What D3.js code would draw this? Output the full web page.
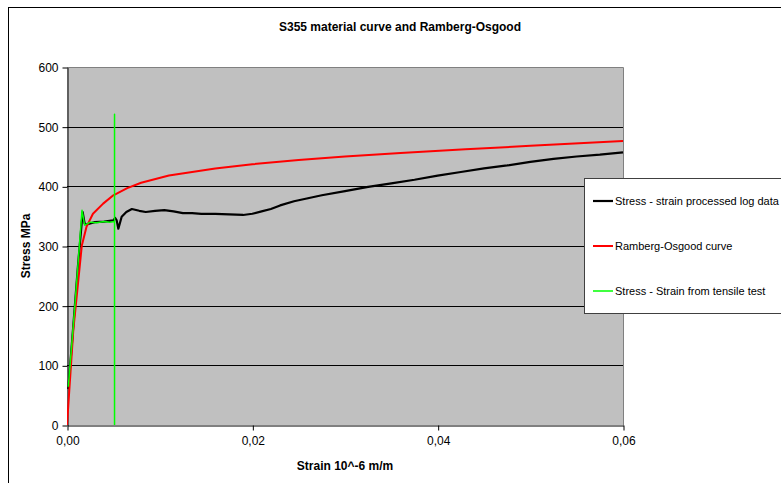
<!DOCTYPE html>
<html>
<head>
<meta charset="utf-8">
<script src="https://cdn.jsdelivr.net/npm/d3@7/dist/d3.min.js"></script>
<style>
  html, body { margin: 0; padding: 0; background: #fff; }
  svg { display: block; font-family: "Liberation Sans", Arial, sans-serif; }
</style>
</head>
<body>
<svg id="chart" width="781" height="483"></svg>
<script>
// Stress-strain curves for S355 steel: measured log data, Ramberg-Osgood fit, tensile test
const logStrain = [0.00014, 0.0007, 0.0012, 0.00169, 0.0019, 0.0021, 0.003, 0.004, 0.005, 0.0052, 0.00536, 0.00554, 0.0059, 0.0064, 0.0070, 0.0078, 0.0085, 0.0095, 0.0105, 0.0115, 0.0125, 0.0135, 0.0145, 0.016, 0.0175, 0.019, 0.020, 0.021, 0.022, 0.023, 0.0245, 0.026, 0.0275, 0.030, 0.0325, 0.035, 0.0375, 0.040, 0.0425, 0.045, 0.0475, 0.050, 0.0525, 0.055, 0.0575, 0.060];
const logStress = [60, 170, 270, 357, 338, 336, 340, 341, 343, 347, 343, 329, 349, 357, 362, 359, 357, 359, 360, 358, 355, 355, 354, 354, 353, 352, 354, 358, 362, 368, 375, 380, 385, 392, 399, 405, 411, 418, 424, 430, 435, 441, 446, 450, 453, 457];

const roStrain = [0, 0.00068, 0.0016, 0.0021, 0.0028, 0.0039, 0.0050, 0.0065, 0.0080, 0.0110, 0.0160, 0.0200, 0.0250, 0.0300, 0.0360, 0.0430, 0.0500, 0.0600];
const roStress = [0, 159, 301, 332, 354, 371, 385, 397, 406, 418, 430, 437, 444, 450, 456, 462, 468, 476];

const testStrain = [0.00014, 0.0007, 0.0012, 0.00162, 0.0019, 0.0025, 0.0032, 0.0040, 0.0046, 0.00513, 0.00513, 0.00513];
const testStress = [64, 170, 272, 360, 335, 340, 339, 341, 340, 341, 521, 0];

const seriesNames = ["Stress - strain processed log data", "Ramberg-Osgood curve", "Stress - Strain from tensile test"];
const seriesColors = ["#000000", "#ff0000", "#00ff00"];

const yTicks = [0, 100, 200, 300, 400, 500, 600];
const xTicks = [0, 0.02, 0.04, 0.06];

const chartTitle = "S355 material curve and Ramberg-Osgood";
const xTitle = "Strain 10^-6 m/m";
const yTitle = "Stress MPa";

const svg = d3.select("#chart");
const plot = { left: 67, right: 623, top: 67, bottom: 425 };

const x = d3.scaleLinear().domain([0, 0.06]).range([plot.left, plot.right]);
const y = d3.scaleLinear().domain([0, 600]).range([plot.bottom, plot.top]);

// outer chart frame
svg.append("rect")
  .attr("x", 8.5).attr("y", 7.5)
  .attr("width", 800).attr("height", 500)
  .attr("fill", "#fff").attr("stroke", "#000").attr("stroke-width", 1);

// plot area background
svg.append("rect")
  .attr("x", plot.left).attr("y", plot.top)
  .attr("width", plot.right - plot.left).attr("height", plot.bottom - plot.top)
  .attr("fill", "#c0c0c0");

// horizontal gridlines
svg.append("g")
  .selectAll("line")
  .data(yTicks.filter(d => d > 0 && d < 600))
  .join("line")
  .attr("x1", plot.left).attr("x2", plot.right)
  .attr("y1", d => Math.round(y(d)) + 0.5).attr("y2", d => Math.round(y(d)) + 0.5)
  .attr("stroke", "#000").attr("stroke-width", 1);

// plot border (top / right)
svg.append("path")
  .attr("d", `M${plot.left},${plot.top + 0.5}H${plot.right + 0.5}V${plot.bottom}`)
  .attr("fill", "none").attr("stroke", "#808080").attr("stroke-width", 1);

// axes
const yAxis = svg.append("g")
  .attr("transform", `translate(${plot.left + 0.5},0.5)`)
  .call(d3.axisLeft(y).tickValues(yTicks).tickSize(5).tickSizeOuter(0).tickPadding(4).tickFormat(d3.format("d")));
const xAxis = svg.append("g")
  .attr("transform", `translate(0.5,${plot.bottom + 0.5})`)
  .call(d3.axisBottom(x).tickValues(xTicks).tickSize(5).tickSizeOuter(0).tickPadding(6)
    .tickFormat(d => d.toFixed(2).replace(".", ",")));
[yAxis, xAxis].forEach(g => {
  g.selectAll("text").attr("font-size", 12).attr("fill", "#000")
    .attr("font-family", "'Liberation Sans', Arial, sans-serif");
  g.selectAll("line, path").attr("stroke", "#000");
});

// series lines
const series = [
  { xs: logStrain, ys: logStress, width: 2.2 },
  { xs: roStrain, ys: roStress, width: 2 },
  { xs: testStrain, ys: testStress, width: 1.5 }
];
const line = d3.line().x(d => x(d[0])).y(d => y(d[1]));
const clip = svg.append("clipPath").attr("id", "plotclip")
  .append("rect").attr("x", plot.left).attr("y", plot.top - 2)
  .attr("width", plot.right - plot.left + 2).attr("height", plot.bottom - plot.top + 3);
series.forEach((s, i) => {
  svg.append("path")
    .datum(s.xs.map((v, k) => [v, s.ys[k]]))
    .attr("d", line)
    .attr("clip-path", "url(#plotclip)")
    .attr("fill", "none")
    .attr("stroke", seriesColors[i])
    .attr("stroke-width", s.width)
    .attr("stroke-linejoin", "round");
});

// titles
svg.append("text")
  .attr("x", 400).attr("y", 31)
  .attr("text-anchor", "middle").attr("font-size", 12).attr("font-weight", "bold")
  .text(chartTitle);
svg.append("text")
  .attr("x", (plot.left + plot.right) / 2).attr("y", 470)
  .attr("text-anchor", "middle").attr("font-size", 12).attr("font-weight", "bold")
  .text(xTitle);
svg.append("text")
  .attr("transform", `translate(30,${(plot.top + plot.bottom) / 2}) rotate(-90)`)
  .attr("text-anchor", "middle").attr("font-size", 12).attr("font-weight", "bold")
  .text(yTitle);

// legend
const legend = svg.append("g");
legend.append("rect")
  .attr("x", 584.5).attr("y", 178.5).attr("width", 220).attr("height", 135)
  .attr("fill", "#fff").attr("stroke", "#404040").attr("stroke-width", 1);
const legendY = [201, 246, 291];
seriesNames.forEach((name, i) => {
  legend.append("line")
    .attr("x1", 593).attr("x2", 613)
    .attr("y1", legendY[i]).attr("y2", legendY[i])
    .attr("stroke", seriesColors[i]).attr("stroke-width", series[i].width);
  legend.append("text")
    .attr("x", 615).attr("y", legendY[i] + 4)
    .attr("font-size", 11).attr("fill", "#000")
    .text(name);
});
</script>
</body>
</html>
